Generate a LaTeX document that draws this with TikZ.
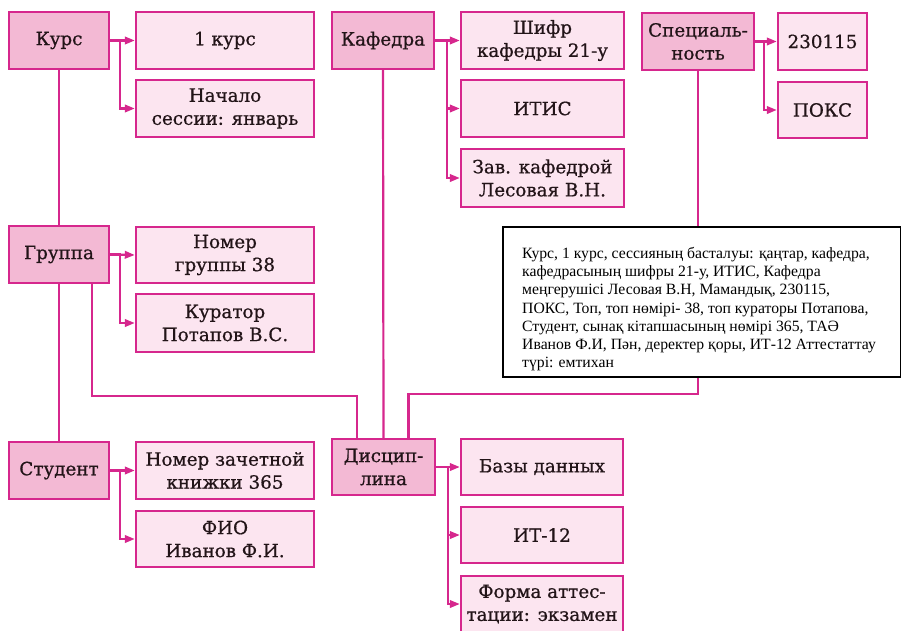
\documentclass[tikz,border=0pt]{standalone}
\usepackage{fontspec}
\setmainfont{DejaVu Serif}
\newfontfamily\boxfont{DejaVu Serif}[FakeBold=0.7]
\newfontfamily\tnr{Liberation Serif}
\usetikzlibrary{arrows.meta}
\definecolor{mag}{HTML}{D6278D}
\definecolor{mainfill}{HTML}{F3B9D4}
\definecolor{subfill}{HTML}{FCE5F0}
\definecolor{txt}{HTML}{221418}
\tikzset{
  box/.style={draw=mag, line width=2.4pt, align=center, inner sep=1pt, text=txt,
    font=\boxfont\fontsize{18.3}{23}\selectfont, minimum height=57pt},
  mainbox/.style={box, fill=mainfill},
  subbox/.style={box, fill=subfill},
  link/.style={draw=mag, line width=2.2pt},
  arr/.style={link, -{Triangle[length=10pt,width=7.5pt]}},
}
\begin{document}
\begin{tikzpicture}[x=1pt,y=-1pt]
\useasboundingbox (0,0) rectangle (901,630);
% main nodes
\node[mainbox, minimum width=100pt] (kurs) at (59,40.5) {Курс};
\node[mainbox, minimum width=102pt] (kaf) at (383,40.5) {Кафедра};
\node[mainbox, minimum width=112pt] (spec) at (698,41.5) {Специаль-\\ность};
\node[mainbox, minimum width=100pt] (grp) at (59,254.5) {Группа};
\node[mainbox, minimum width=100pt] (stud) at (59,470.5) {Студент};
\node[mainbox, minimum width=103pt, minimum height=56pt] (disc) at (383.5,467) {Дисцип-\\лина};
% sub nodes
\node[subbox, minimum width=178pt] (k1) at (225,40.5) {1 курс};
\node[subbox, minimum width=178pt] (k2) at (225,108.5) {Начало\\сессии: январь};
\node[subbox, minimum width=163pt] (f1) at (542.5,40.5) {Шифр\\кафедры 21-у};
\node[subbox, minimum width=163pt] (f2) at (542.5,108.5) {ИТИС};
\node[subbox, minimum width=163pt, minimum height=58pt] (f3) at (542.5,178) {Зав. кафедрой\\Лесовая В.Н.};
\node[subbox, minimum width=89pt] (s1) at (822.5,41.5) {230115};
\node[subbox, minimum width=89pt, minimum height=56pt] (s2) at (822.5,110) {ПОКС};
\node[subbox, minimum width=178pt, minimum height=56pt] (g1) at (225,255) {Номер\\группы 38};
\node[subbox, minimum width=178pt, minimum height=58pt] (g2) at (225,323) {Куратор\\Потапов В.С.};
\node[subbox, minimum width=178pt] (t1) at (225,470.5) {Номер зачетной\\книжки 365};
\node[subbox, minimum width=178pt, minimum height=56pt] (t2) at (225,539) {ФИО\\Иванов Ф.И.};
\node[subbox, minimum width=162pt, minimum height=56pt] (d1) at (542,467) {Базы данных};
\node[subbox, minimum width=162pt, minimum height=56pt] (d2) at (542,535) {ИТ-12};
\node[subbox, minimum width=162pt, minimum height=56pt] (d3) at (542,604) {Форма аттес-\\тации: экзамен};
% branch arrows
\draw[arr] (kurs.east) -- (k1.west);
\draw[arr] (kurs.east) -- ++(10,0) |- (k2.west);
\draw[arr] (kaf.east) -- (f1.west);
\draw[arr] (kaf.east) -- ++(12,0) |- (f2.west);
\draw[arr] (kaf.east) -- ++(12,0) |- (f3.west);
\draw[arr] (spec.east) -- (s1.west);
\draw[arr] (spec.east) -- ++(9,0) |- (s2.west);
\draw[arr] (grp.east) -- (g1.west);
\draw[arr] (grp.east) -- ++(10,0) |- (g2.west);
\draw[arr] (stud.east) -- (t1.west);
\draw[arr] (stud.east) -- ++(10,0) |- (t2.west);
\draw[arr] (disc.east) -- (d1.west);
\draw[arr] (disc.east) -- ++(12,0) |- (d2.west);
\draw[arr] (disc.east) -- ++(12,0) |- (d3.west);
% trunks
\draw[link] (kurs.south) -- (grp.north);
\draw[link] (grp.south) -- (stud.north);
\draw[link] ([xshift=33pt]grp.south) -- ++(0,112) -| ([xshift=-26.5pt]disc.north);
\draw[link] (kaf.south) -- (disc.north);
\draw[link] (spec.south) -- ++(0,322.5) -| ([xshift=25pt]disc.north);
% text box
\node[draw=black, line width=2pt, fill=white, minimum width=398pt, minimum height=150pt, anchor=north west, inner sep=0pt] (note) at (502,226) {};
\node[anchor=north west, align=left, inner sep=0pt, font=\tnr\fontsize{15.7}{18.2}\selectfont] (notetext) at ([xshift=20pt,yshift=-21pt]note.north west)
{Курс, 1 курс, сессияның басталуы: қаңтар, кафедра,\\
кафедрасының шифры 21-у, ИТИС, Кафедра\\
меңгерушісі Лесовая В.Н, Мамандық, 230115,\\
ПОКС, Топ, топ нөмірі- 38, топ кураторы Потапова,\\
Студент, сынақ кітапшасының нөмірі 365, ТАӘ\\
Иванов Ф.И, Пән, деректер қоры, ИТ-12 Аттестаттау\\
түрі: емтихан};
\end{tikzpicture}
\end{document}
